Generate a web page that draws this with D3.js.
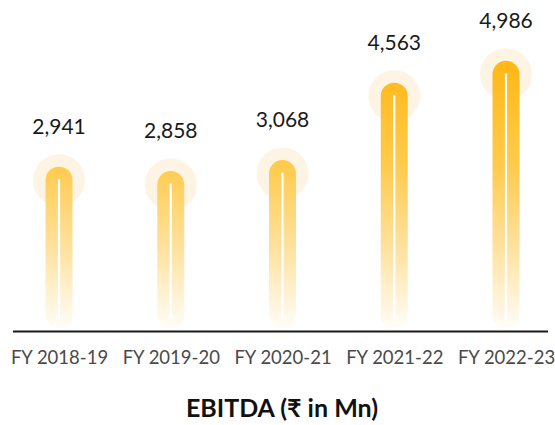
<!DOCTYPE html>
<html>
<head>
<meta charset="utf-8">
<script src="https://cdn.jsdelivr.net/npm/d3@7"></script>
<style>
	body { margin: 0; background: #fff; }
	.valLabel { font-family: Lato, "Open Sans", sans-serif; font-size: 21px; fill: #1a1a1a; }
	.yearLabel { font-family: Lato, "Open Sans", sans-serif; font-size: 18.5px; fill: #4a4a4a; }
	.title { font-family: Lato, "Open Sans", sans-serif; font-size: 25px; font-weight: bold; fill: #111; }
</style>
</head>
<body>
<script>
//chart data
var years = ["FY 2018-19", "FY 2019-20", "FY 2020-21", "FY 2021-22", "FY 2022-23"];
var ebitda = [2941, 2858, 3068, 4563, 4986];
var valueLabels = ["2,941", "2,858", "3,068", "4,563", "4,986"];
var chartTitle = "EBITDA (\u20B9 in Mn)";

window.onload = setChart();
function setChart(){

	//frame dimensions
	var width = 555,
		height = 425;

	var svg = d3.select("body")
		.append("svg")
		.attr("width", width)
		.attr("height", height);

	//scales
	var x = d3.scalePoint()
		.domain(years)
		.range([59, 506]);

	var y = d3.scaleLinear()
		.domain([0, 5000])
		.range([319, 60]);

	var barW = 27,
		barBottom = 328;

	//gradient fading from gold to white going down
	var grad = svg.append("defs")
		.append("linearGradient")
		.attr("id", "barGrad")
		.attr("gradientUnits", "userSpaceOnUse")
		.attr("x1", 0).attr("x2", 0)
		.attr("y1", 58).attr("y2", barBottom);
	grad.append("stop").attr("offset", "0%").attr("stop-color", "#ffb713");
	grad.append("stop").attr("offset", "40%").attr("stop-color", "#ffcb4e");
	grad.append("stop").attr("offset", "72%").attr("stop-color", "#ffe3a3");
	grad.append("stop").attr("offset", "100%").attr("stop-color", "#fffdf8");

	var data = years.map(function(d, i){
		return {year: d, value: ebitda[i], label: valueLabels[i]};
	});

	//soft halo behind each bar top
	svg.selectAll(".halo")
		.data(data)
		.enter()
		.append("circle")
		.attr("class", "halo")
		.attr("cx", function(d){ return x(d.year); })
		.attr("cy", function(d){ return y(d.value) + barW / 2; })
		.attr("r", 26)
		.attr("fill", "#fdf4e4");

	//bars
	svg.selectAll(".bar")
		.data(data)
		.enter()
		.append("rect")
		.attr("class", "bar")
		.attr("x", function(d){ return x(d.year) - barW / 2; })
		.attr("y", function(d){ return y(d.value); })
		.attr("width", barW)
		.attr("height", function(d){ return barBottom - y(d.value); })
		.attr("rx", barW / 2)
		.attr("fill", "url(#barGrad)");

	//thin white line inside each bar
	svg.selectAll(".inner")
		.data(data)
		.enter()
		.append("line")
		.attr("class", "inner")
		.attr("x1", function(d){ return x(d.year); })
		.attr("x2", function(d){ return x(d.year); })
		.attr("y1", function(d){ return y(d.value) + barW / 2; })
		.attr("y2", 318)
		.attr("stroke", "#fff")
		.attr("stroke-width", 2.2)
		.attr("stroke-linecap", "round");

	//value labels
	svg.selectAll(".valLabel")
		.data(data)
		.enter()
		.append("text")
		.attr("class", "valLabel")
		.attr("x", function(d){ return x(d.year); })
		.attr("y", function(d){ return y(d.value) - 33; })
		.attr("text-anchor", "middle")
		.text(function(d){ return d.label; });

	//baseline
	svg.append("line")
		.attr("x1", 13)
		.attr("x2", 548)
		.attr("y1", 331.5)
		.attr("y2", 331.5)
		.attr("stroke", "#1a1a1a")
		.attr("stroke-width", 1.8);

	//year labels via axis
	var xAxis = svg.append("g")
		.attr("transform", "translate(0,332)")
		.call(d3.axisBottom(x).tickSize(0).tickPadding(32));
	xAxis.select(".domain").remove();
	xAxis.selectAll("text")
		.attr("class", "yearLabel")
		.attr("fill", null)
		.attr("dy", null);
	xAxis.attr("font-family", null).attr("font-size", null);

	//title
	svg.append("text")
		.attr("class", "title")
		.attr("x", 282)
		.attr("y", 417)
		.attr("text-anchor", "middle")
		.text(chartTitle);
};
</script>
</body>
</html>
